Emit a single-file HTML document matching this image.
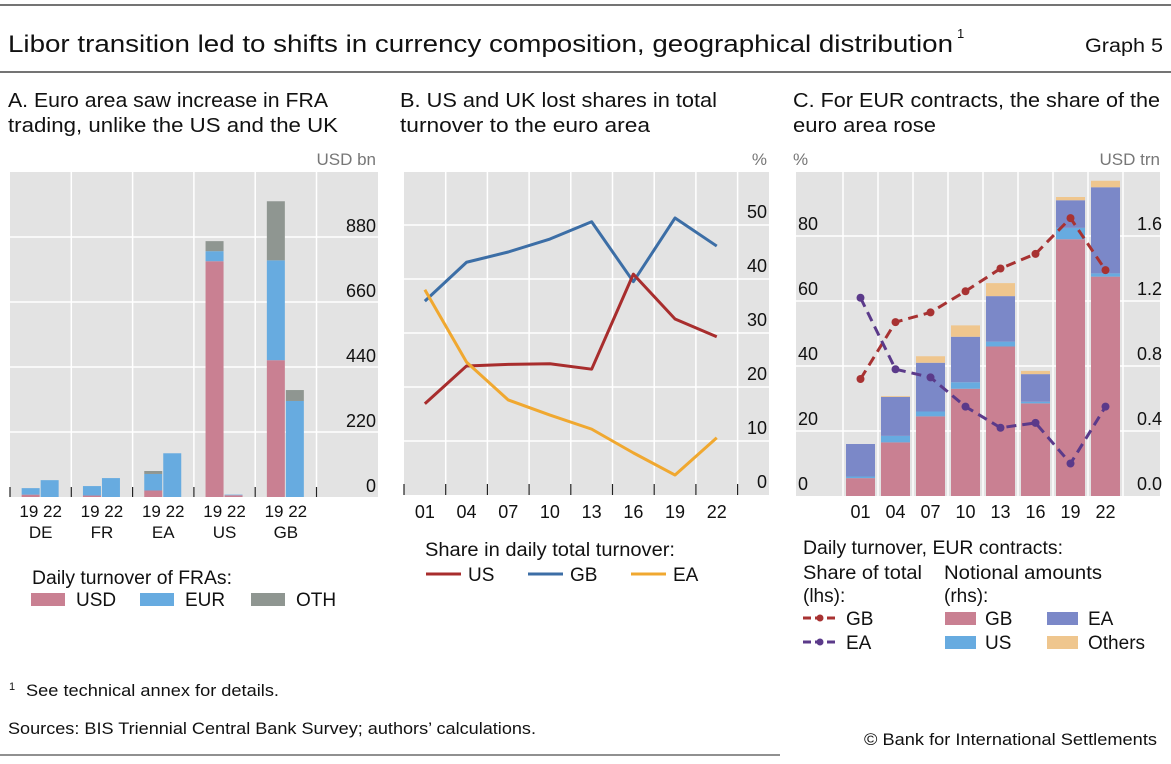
<!DOCTYPE html>
<html><head><meta charset="utf-8">
<style>
html,body{margin:0;padding:0;background:#fff;}
svg{display:block;font-family:"Liberation Sans",sans-serif;}
</style></head>
<body>
<svg id="root" width="1171" height="764" viewBox="0 0 1171 764" xmlns="http://www.w3.org/2000/svg">
<line x1="0" y1="5" x2="1171" y2="5" stroke="#222" stroke-width="1.2"/>
<text x="8" y="52" font-size="24" textLength="945" lengthAdjust="spacingAndGlyphs" fill="#111">Libor transition led to shifts in currency composition, geographical distribution</text>
<text x="957" y="38" font-size="13" fill="#111">1</text>
<text x="1163" y="52" font-size="19" text-anchor="end" textLength="78" lengthAdjust="spacingAndGlyphs" fill="#111">Graph 5</text>
<line x1="0" y1="72" x2="1171" y2="72" stroke="#222" stroke-width="1.2"/>

<text x="8" y="107" font-size="20" textLength="320" lengthAdjust="spacingAndGlyphs" fill="#111">A. Euro area saw increase in FRA</text>
<text x="8" y="132" font-size="20" textLength="330" lengthAdjust="spacingAndGlyphs" fill="#111">trading, unlike the US and the UK</text>
<text x="400" y="107" font-size="20" textLength="317" lengthAdjust="spacingAndGlyphs" fill="#111">B. US and UK lost shares in total</text>
<text x="400" y="132" font-size="20" textLength="250" lengthAdjust="spacingAndGlyphs" fill="#111">turnover to the euro area</text>
<text x="793" y="107" font-size="20" textLength="367" lengthAdjust="spacingAndGlyphs" fill="#111">C. For EUR contracts, the share of the</text>
<text x="793" y="132" font-size="20" textLength="143" lengthAdjust="spacingAndGlyphs" fill="#111">euro area rose</text>

<g id="pa"></g>
<g id="pb"></g>
<g id="pc"></g>

<g font-size="19" fill="#111">
<text x="32" y="584" textLength="200" lengthAdjust="spacingAndGlyphs">Daily turnover of FRAs:</text>
<rect x="31" y="593" width="34" height="13" fill="#c98092"/>
<text x="76" y="606">USD</text>
<rect x="140" y="593" width="34" height="13" fill="#67abe0"/>
<text x="185" y="606">EUR</text>
<rect x="251" y="593" width="34" height="13" fill="#8f9691"/>
<text x="296" y="606">OTH</text>
</g>
<g font-size="19" fill="#111">
<text x="425" y="556" textLength="250" lengthAdjust="spacingAndGlyphs">Share in daily total turnover:</text>
<line x1="426" y1="574" x2="461" y2="574" stroke="#a82d2d" stroke-width="3"/>
<text x="468" y="581">US</text>
<line x1="528" y1="574" x2="563" y2="574" stroke="#3c6ea6" stroke-width="3"/>
<text x="570" y="581">GB</text>
<line x1="631" y1="574" x2="666" y2="574" stroke="#f0a830" stroke-width="3"/>
<text x="673" y="581">EA</text>
</g>
<g font-size="19" fill="#111">
<text x="803" y="554" textLength="260" lengthAdjust="spacingAndGlyphs">Daily turnover, EUR contracts:</text>
<text x="803" y="579" textLength="119" lengthAdjust="spacingAndGlyphs">Share of total</text>
<text x="803" y="602">(lhs):</text>
<text x="944" y="579" textLength="158" lengthAdjust="spacingAndGlyphs">Notional amounts</text>
<text x="944" y="602">(rhs):</text>
<line x1="803" y1="618" x2="838" y2="618" stroke="#a83232" stroke-width="3" stroke-dasharray="8,4"/>
<circle cx="820" cy="618" r="3.5" fill="#a83232"/>
<text x="846" y="625">GB</text>
<line x1="803" y1="642" x2="838" y2="642" stroke="#5b3a8a" stroke-width="3" stroke-dasharray="8,4"/>
<circle cx="820" cy="642" r="3.5" fill="#5b3a8a"/>
<text x="846" y="649">EA</text>
<rect x="945" y="612" width="31" height="13" fill="#c98092"/>
<text x="985" y="625">GB</text>
<rect x="1047" y="612" width="31" height="13" fill="#7b88c8"/>
<text x="1088" y="625">EA</text>
<rect x="945" y="636" width="31" height="13" fill="#67abe0"/>
<text x="985" y="649">US</text>
<rect x="1047" y="636" width="31" height="13" fill="#efc68e"/>
<text x="1088" y="649">Others</text>
</g>

<text x="9" y="690" font-size="11" fill="#111">1</text>
<text x="26" y="696" font-size="17" textLength="253" lengthAdjust="spacingAndGlyphs" fill="#111">See technical annex for details.</text>
<text x="8" y="734" font-size="17" textLength="528" lengthAdjust="spacingAndGlyphs" fill="#111">Sources: BIS Triennial Central Bank Survey; authors’ calculations.</text>
<line x1="0" y1="755" x2="780" y2="755" stroke="#222" stroke-width="1"/>
<text x="1157" y="745" font-size="17" text-anchor="end" textLength="293" lengthAdjust="spacingAndGlyphs" fill="#111">© Bank for International Settlements</text>
</svg>
<script>
const NS="http://www.w3.org/2000/svg";
const aCountries=["DE","FR","EA","US","GB"];
const aYears=["19","22"];
const aUSD19=[8,5,22,798,463];
const aEUR19=[22,32,56,34,338];
const aOTH19=[0,0,10,34,200];
const aUSD22=[0,0,0,6,0];
const aEUR22=[57,64,148,2,325];
const aOTH22=[0,0,0,0,37];
const aTicks=[0,220,440,660,880];
const bYears=["01","04","07","10","13","16","19","22"];
const bUS=[16.9,23.9,24.2,24.3,23.3,40.9,32.6,29.3];
const bGB=[35.9,43.1,45,47.4,50.6,39.5,51.3,46.1];
const bEA=[38,24.6,17.6,14.8,12.2,7.8,3.7,10.6];
const bTicks=[0,10,20,30,40,50];
const cYears=["01","04","07","10","13","16","19","22"];
const cGBamt=[0.11,0.33,0.49,0.66,0.92,0.57,1.58,1.35];
const cUSamt=[0.01,0.04,0.03,0.04,0.03,0.01,0.07,0.02];
const cEAamt=[0.20,0.24,0.30,0.28,0.28,0.17,0.17,0.53];
const cOTHamt=[0,0.005,0.04,0.07,0.08,0.02,0.02,0.04];
const cGBshare=[36,53.5,56.5,63,70,74.5,85.5,69.5];
const cEAshare=[61,39,36.5,27.5,21,22.5,10,27.5];
const cLhsTicks=[0,20,40,60,80];
const cRhsTicks=[0,0.4,0.8,1.2,1.6];

function mk(tag,attrs,parent,txt){const e=document.createElementNS(NS,tag);for(const k in attrs)e.setAttribute(k,attrs[k]);if(txt!==undefined)e.textContent=txt;parent.appendChild(e);return e;}

(function(){
const g=document.getElementById('pa');
const L=10,R=378,T=172,B=497,gw=61.3;
const y=v=>B-v*65/220;
const bg=mk('rect',{x:L,y:T,width:R-L,height:B-T,fill:'#e3e3e3'},g);


aTicks.forEach(t=>{
  if(t>0){const ln=mk('line',{x1:L,x2:R,y1:y(t),y2:y(t),stroke:'#fff','stroke-width':1.5},g);
  }
  const tx=mk('text',{x:376,y:y(t)-5,'font-size':18,'text-anchor':'end',fill:'#111'},g,String(t));
  
});
for(let i=1;i<=aCountries.length;i++){
  const x=L+gw*i;
  const ln=mk('line',{x1:x,x2:x,y1:T,y2:B,stroke:'#fff','stroke-width':1.5},g);
  
}
for(let i=0;i<=aCountries.length;i++){
  const x=L+gw*i;
  const tk=mk('line',{x1:x,x2:x,y1:B-10,y2:B,stroke:'#222','stroke-width':1.2},g);
  
}
const ut=mk('text',{x:376,y:165,'font-size':17,'text-anchor':'end',fill:'#777'},g,'USD bn');

function stack(x,vals,cols,nm){
  let base=0;
  vals.forEach((v,k)=>{ if(v<=0)return;
    const r=mk('rect',{x:x,y:y(base+v),width:18,height:y(base)-y(base+v),fill:cols[k]},g);
    
    
    base+=v;});
}
const cols=['#c98092','#67abe0','#8f9691'];
aCountries.forEach((c,i)=>{
  const cx=L+gw*i+gw/2;
  stack(cx-19,[aUSD19[i],aEUR19[i],aOTH19[i]],cols,'bar-'+c.toLowerCase()+'-19');
  stack(cx,[aUSD22[i],aEUR22[i],aOTH22[i]],cols,'bar-'+c.toLowerCase()+'-22');
  const t1=mk('text',{x:cx,y:517,'font-size':17,'text-anchor':'middle',fill:'#111'},g,aYears[0]+' '+aYears[1]);
  
  const t2=mk('text',{x:cx,y:538,'font-size':17,'text-anchor':'middle',fill:'#111'},g,c);
  
});
})();

(function(){
const g=document.getElementById('pb');
const L=404,R=769,T=172,B=495,cw=41.7;
const y=v=>B-v*5.4;
const xc=i=>L+cw*i+cw/2;
const bg=mk('rect',{x:L,y:T,width:R-L,height:B-T,fill:'#e3e3e3'},g);

bTicks.forEach(t=>{
  if(t>0){const ln=mk('line',{x1:L,x2:R,y1:y(t),y2:y(t),stroke:'#fff','stroke-width':1.5},g);
  }
  const tx=mk('text',{x:767,y:y(t)-7,'font-size':18,'text-anchor':'end',fill:'#111'},g,String(t));
  
});
for(let i=1;i<=bYears.length;i++){
  const x=L+cw*i;
  const ln=mk('line',{x1:x,x2:x,y1:T,y2:B,stroke:'#fff','stroke-width':1.5},g);
  
}
for(let i=0;i<=bYears.length;i++){
  const x=L+cw*i;
  const tk=mk('line',{x1:x,x2:x,y1:B-11,y2:B,stroke:'#222','stroke-width':1.2},g);
  
}
bYears.forEach((yr,i)=>{
  const t=mk('text',{x:xc(i),y:518,'font-size':18,'text-anchor':'middle',fill:'#111'},g,yr);
  
});
const ut=mk('text',{x:767,y:165,'font-size':17,'text-anchor':'end',fill:'#777'},g,'%');

function line(arr,col,nm){
  const p=mk('polyline',{points:arr.map((v,i)=>xc(i)+','+y(v)).join(' '),fill:'none',stroke:col,'stroke-width':3,'stroke-linejoin':'round'},g);
  
}
line(bGB,'#3c6ea6','line-gb');
line(bUS,'#a82d2d','line-us');
line(bEA,'#f0a830','line-ea');
})();

(function(){
const g=document.getElementById('pc');
const L=796,R=1160,T=172,B=496,x0=843,cw=35;
const yl=v=>B-v*3.25;
const yr=v=>B-v*162.5;
const xc=i=>x0+cw*i+cw/2;
const bg=mk('rect',{x:L,y:T,width:R-L,height:B-T,fill:'#e3e3e3'},g);

cLhsTicks.forEach((t,k)=>{
  if(t>0){const ln=mk('line',{x1:L,x2:R,y1:yl(t),y2:yl(t),stroke:'#fff','stroke-width':1.5},g);
  }
  const tx=mk('text',{x:798,y:yl(t)-6,'font-size':18,fill:'#111'},g,String(t));
  
});
cRhsTicks.forEach(t=>{
  const tx=mk('text',{x:1162,y:yr(t)-6,'font-size':18,'text-anchor':'end',fill:'#111'},g,t.toFixed(1));
  
});
for(let i=0;i<=cYears.length;i++){
  const x=x0+cw*i;
  const ln=mk('line',{x1:x,x2:x,y1:T,y2:B,stroke:'#fff','stroke-width':1.5},g);
  
}
const u1=mk('text',{x:793,y:165,'font-size':17,fill:'#777'},g,'%');

const u2=mk('text',{x:1160,y:165,'font-size':17,'text-anchor':'end',fill:'#777'},g,'USD trn');

const cols=['#c98092','#67abe0','#7b88c8','#efc68e'];
const names=['gb','us','ea','others'];
cYears.forEach((yrLab,i)=>{
  const vals=[cGBamt[i],cUSamt[i],cEAamt[i],cOTHamt[i]];
  let base=0;
  vals.forEach((v,k)=>{
    if(v<=0)return;
    const r=mk('rect',{x:xc(i)-14.5,y:yr(base+v),width:29,height:yr(base)-yr(base+v),fill:cols[k]},g);
    
    
    base+=v;
  });
  const t=mk('text',{x:xc(i),y:518,'font-size':18,'text-anchor':'middle',fill:'#111'},g,yrLab);
  
});
function dline(arr,col,nm){
  const p=mk('polyline',{points:arr.map((v,i)=>xc(i)+','+yl(v)).join(' '),fill:'none',stroke:col,'stroke-width':3,'stroke-dasharray':'10,6'},g);
  
  arr.forEach((v,i)=>{
    const c=mk('circle',{cx:xc(i),cy:yl(v),r:4,fill:col},g);
    
  });
}
dline(cGBshare,'#a83232','line-gb-share');
dline(cEAshare,'#5b3a8a','line-ea-share');
})();
</script>
</body></html>
